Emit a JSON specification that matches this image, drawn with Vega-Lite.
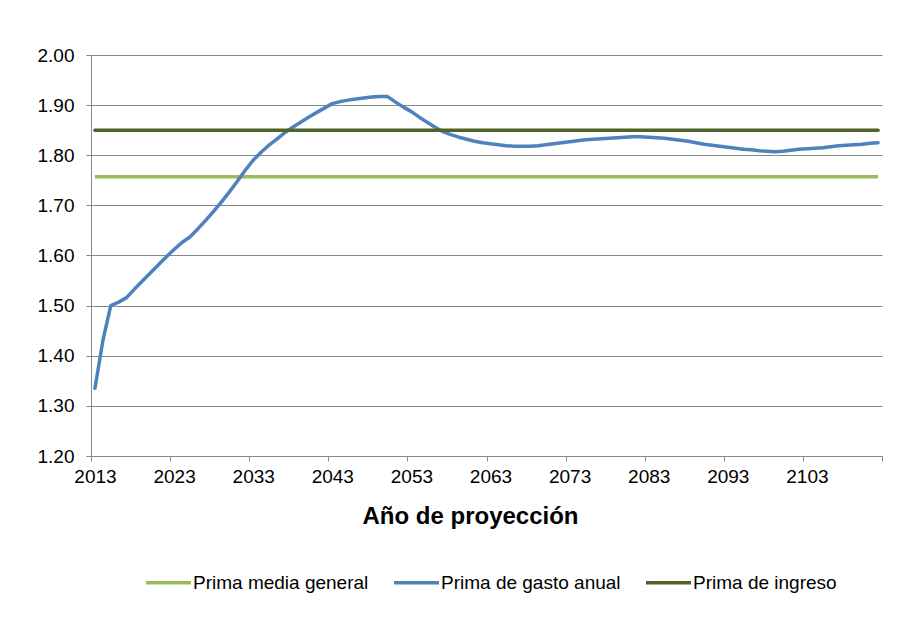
{
  "$schema": "https://vega.github.io/schema/vega-lite/v6.json",
  "width": 791,
  "height": 401,
  "autosize": {"type": "none"},
  "padding": {"left": 91, "top": 55, "right": 33, "bottom": 165},
  "background": "#ffffff",
  "config": {
    "font": "Liberation Sans",
    "view": {"stroke": null},
    "axis": {
      "domainColor": "#898989",
      "tickColor": "#898989",
      "gridColor": "#898989",
      "domainWidth": 1,
      "tickWidth": 1,
      "gridWidth": 1,
      "tickSize": 5,
      "labelColor": "#000000",
      "labelFontSize": 19,
      "labelFont": "Liberation Sans",
      "titleColor": "#000000"
    }
  },
  "data": {
    "values": [
      {"anio": 2013, "media": 1.757, "gasto": 1.335, "ingreso": 1.85},
      {"anio": 2014, "media": 1.757, "gasto": 1.430, "ingreso": 1.85},
      {"anio": 2015, "media": 1.757, "gasto": 1.500, "ingreso": 1.85},
      {"anio": 2016, "media": 1.757, "gasto": 1.507, "ingreso": 1.85},
      {"anio": 2017, "media": 1.757, "gasto": 1.516, "ingreso": 1.85},
      {"anio": 2018, "media": 1.757, "gasto": 1.533, "ingreso": 1.85},
      {"anio": 2019, "media": 1.757, "gasto": 1.549, "ingreso": 1.85},
      {"anio": 2020, "media": 1.757, "gasto": 1.565, "ingreso": 1.85},
      {"anio": 2021, "media": 1.757, "gasto": 1.581, "ingreso": 1.85},
      {"anio": 2022, "media": 1.757, "gasto": 1.597, "ingreso": 1.85},
      {"anio": 2023, "media": 1.757, "gasto": 1.612, "ingreso": 1.85},
      {"anio": 2024, "media": 1.757, "gasto": 1.626, "ingreso": 1.85},
      {"anio": 2025, "media": 1.757, "gasto": 1.637, "ingreso": 1.85},
      {"anio": 2026, "media": 1.757, "gasto": 1.653, "ingreso": 1.85},
      {"anio": 2027, "media": 1.757, "gasto": 1.670, "ingreso": 1.85},
      {"anio": 2028, "media": 1.757, "gasto": 1.688, "ingreso": 1.85},
      {"anio": 2029, "media": 1.757, "gasto": 1.707, "ingreso": 1.85},
      {"anio": 2030, "media": 1.757, "gasto": 1.727, "ingreso": 1.85},
      {"anio": 2031, "media": 1.757, "gasto": 1.748, "ingreso": 1.85},
      {"anio": 2032, "media": 1.757, "gasto": 1.770, "ingreso": 1.85},
      {"anio": 2033, "media": 1.757, "gasto": 1.790, "ingreso": 1.85},
      {"anio": 2034, "media": 1.757, "gasto": 1.806, "ingreso": 1.85},
      {"anio": 2035, "media": 1.757, "gasto": 1.820, "ingreso": 1.85},
      {"anio": 2036, "media": 1.757, "gasto": 1.832, "ingreso": 1.85},
      {"anio": 2037, "media": 1.757, "gasto": 1.845, "ingreso": 1.85},
      {"anio": 2038, "media": 1.757, "gasto": 1.856, "ingreso": 1.85},
      {"anio": 2039, "media": 1.757, "gasto": 1.866, "ingreso": 1.85},
      {"anio": 2040, "media": 1.757, "gasto": 1.876, "ingreso": 1.85},
      {"anio": 2041, "media": 1.757, "gasto": 1.885, "ingreso": 1.85},
      {"anio": 2042, "media": 1.757, "gasto": 1.894, "ingreso": 1.85},
      {"anio": 2043, "media": 1.757, "gasto": 1.903, "ingreso": 1.85},
      {"anio": 2044, "media": 1.757, "gasto": 1.907, "ingreso": 1.85},
      {"anio": 2045, "media": 1.757, "gasto": 1.910, "ingreso": 1.85},
      {"anio": 2046, "media": 1.757, "gasto": 1.912, "ingreso": 1.85},
      {"anio": 2047, "media": 1.757, "gasto": 1.914, "ingreso": 1.85},
      {"anio": 2048, "media": 1.757, "gasto": 1.916, "ingreso": 1.85},
      {"anio": 2049, "media": 1.757, "gasto": 1.917, "ingreso": 1.85},
      {"anio": 2050, "media": 1.757, "gasto": 1.917, "ingreso": 1.85},
      {"anio": 2051, "media": 1.757, "gasto": 1.906, "ingreso": 1.85},
      {"anio": 2052, "media": 1.757, "gasto": 1.896, "ingreso": 1.85},
      {"anio": 2053, "media": 1.757, "gasto": 1.887, "ingreso": 1.85},
      {"anio": 2054, "media": 1.757, "gasto": 1.876, "ingreso": 1.85},
      {"anio": 2055, "media": 1.757, "gasto": 1.866, "ingreso": 1.85},
      {"anio": 2056, "media": 1.757, "gasto": 1.856, "ingreso": 1.85},
      {"anio": 2057, "media": 1.757, "gasto": 1.847, "ingreso": 1.85},
      {"anio": 2058, "media": 1.757, "gasto": 1.841, "ingreso": 1.85},
      {"anio": 2059, "media": 1.757, "gasto": 1.836, "ingreso": 1.85},
      {"anio": 2060, "media": 1.757, "gasto": 1.832, "ingreso": 1.85},
      {"anio": 2061, "media": 1.757, "gasto": 1.828, "ingreso": 1.85},
      {"anio": 2062, "media": 1.757, "gasto": 1.825, "ingreso": 1.85},
      {"anio": 2063, "media": 1.757, "gasto": 1.823, "ingreso": 1.85},
      {"anio": 2064, "media": 1.757, "gasto": 1.821, "ingreso": 1.85},
      {"anio": 2065, "media": 1.757, "gasto": 1.819, "ingreso": 1.85},
      {"anio": 2066, "media": 1.757, "gasto": 1.818, "ingreso": 1.85},
      {"anio": 2067, "media": 1.757, "gasto": 1.818, "ingreso": 1.85},
      {"anio": 2068, "media": 1.757, "gasto": 1.818, "ingreso": 1.85},
      {"anio": 2069, "media": 1.757, "gasto": 1.819, "ingreso": 1.85},
      {"anio": 2070, "media": 1.757, "gasto": 1.821, "ingreso": 1.85},
      {"anio": 2071, "media": 1.757, "gasto": 1.823, "ingreso": 1.85},
      {"anio": 2072, "media": 1.757, "gasto": 1.825, "ingreso": 1.85},
      {"anio": 2073, "media": 1.757, "gasto": 1.827, "ingreso": 1.85},
      {"anio": 2074, "media": 1.757, "gasto": 1.829, "ingreso": 1.85},
      {"anio": 2075, "media": 1.757, "gasto": 1.831, "ingreso": 1.85},
      {"anio": 2076, "media": 1.757, "gasto": 1.832, "ingreso": 1.85},
      {"anio": 2077, "media": 1.757, "gasto": 1.833, "ingreso": 1.85},
      {"anio": 2078, "media": 1.757, "gasto": 1.834, "ingreso": 1.85},
      {"anio": 2079, "media": 1.757, "gasto": 1.835, "ingreso": 1.85},
      {"anio": 2080, "media": 1.757, "gasto": 1.836, "ingreso": 1.85},
      {"anio": 2081, "media": 1.757, "gasto": 1.837, "ingreso": 1.85},
      {"anio": 2082, "media": 1.757, "gasto": 1.837, "ingreso": 1.85},
      {"anio": 2083, "media": 1.757, "gasto": 1.836, "ingreso": 1.85},
      {"anio": 2084, "media": 1.757, "gasto": 1.835, "ingreso": 1.85},
      {"anio": 2085, "media": 1.757, "gasto": 1.834, "ingreso": 1.85},
      {"anio": 2086, "media": 1.757, "gasto": 1.832, "ingreso": 1.85},
      {"anio": 2087, "media": 1.757, "gasto": 1.830, "ingreso": 1.85},
      {"anio": 2088, "media": 1.757, "gasto": 1.828, "ingreso": 1.85},
      {"anio": 2089, "media": 1.757, "gasto": 1.825, "ingreso": 1.85},
      {"anio": 2090, "media": 1.757, "gasto": 1.822, "ingreso": 1.85},
      {"anio": 2091, "media": 1.757, "gasto": 1.820, "ingreso": 1.85},
      {"anio": 2092, "media": 1.757, "gasto": 1.818, "ingreso": 1.85},
      {"anio": 2093, "media": 1.757, "gasto": 1.816, "ingreso": 1.85},
      {"anio": 2094, "media": 1.757, "gasto": 1.814, "ingreso": 1.85},
      {"anio": 2095, "media": 1.757, "gasto": 1.812, "ingreso": 1.85},
      {"anio": 2096, "media": 1.757, "gasto": 1.811, "ingreso": 1.85},
      {"anio": 2097, "media": 1.757, "gasto": 1.809, "ingreso": 1.85},
      {"anio": 2098, "media": 1.757, "gasto": 1.808, "ingreso": 1.85},
      {"anio": 2099, "media": 1.757, "gasto": 1.807, "ingreso": 1.85},
      {"anio": 2100, "media": 1.757, "gasto": 1.808, "ingreso": 1.85},
      {"anio": 2101, "media": 1.757, "gasto": 1.810, "ingreso": 1.85},
      {"anio": 2102, "media": 1.757, "gasto": 1.812, "ingreso": 1.85},
      {"anio": 2103, "media": 1.757, "gasto": 1.813, "ingreso": 1.85},
      {"anio": 2104, "media": 1.757, "gasto": 1.814, "ingreso": 1.85},
      {"anio": 2105, "media": 1.757, "gasto": 1.815, "ingreso": 1.85},
      {"anio": 2106, "media": 1.757, "gasto": 1.817, "ingreso": 1.85},
      {"anio": 2107, "media": 1.757, "gasto": 1.819, "ingreso": 1.85},
      {"anio": 2108, "media": 1.757, "gasto": 1.820, "ingreso": 1.85},
      {"anio": 2109, "media": 1.757, "gasto": 1.821, "ingreso": 1.85},
      {"anio": 2110, "media": 1.757, "gasto": 1.822, "ingreso": 1.85},
      {"anio": 2111, "media": 1.757, "gasto": 1.824, "ingreso": 1.85},
      {"anio": 2112, "media": 1.757, "gasto": 1.825, "ingreso": 1.85}
    ]
  },
  "encoding": {
    "x": {
      "field": "anio",
      "type": "quantitative",
      "scale": {"domain": [2012.5, 2112.5], "nice": false, "zero": false},
      "axis": {
        "title": "Año de proyección",
        "titleFontSize": 24,
        "titleFontWeight": "bold",
        "titlePadding": 18,
        "titleX": 379,
        "grid": false,
        "values": [2012.5, 2022.5, 2032.5, 2042.5, 2052.5, 2062.5, 2072.5, 2082.5, 2092.5, 2102.5, 2112.5],
        "labelExpr": "datum.value > 2110 ? '' : format(datum.value + 0.5, 'd')",
        "labelOffset": 4,
        "labelPadding": 6,
        "labelFlush": false,
        "labelOverlap": false
      }
    },
    "y": {
      "type": "quantitative",
      "scale": {"domain": [1.2, 2.0], "nice": false, "zero": false},
      "axis": {
        "title": null,
        "grid": true,
        "values": [1.2, 1.3, 1.4, 1.5, 1.6, 1.7, 1.8, 1.9, 2.0],
        "format": ".2f",
        "labelPadding": 12
      }
    },
    "color": {
      "type": "nominal",
      "scale": {
        "domain": ["Prima media general", "Prima de gasto anual", "Prima de ingreso"],
        "range": ["#9bbb59", "#4f81bd", "#4f6228"]
      },
      "legend": {
        "title": null,
        "orient": "none",
        "legendX": 53,
        "legendY": 503,
        "direction": "horizontal",
        "symbolType": "stroke",
        "symbolSize": 2025,
        "symbolStrokeWidth": 3.5,
        "labelFontSize": 19,
        "labelLimit": 400,
        "labelColor": "#000000",
        "labelOffset": 0,
        "columnPadding": 18
      }
    }
  },
  "layer": [
    {
      "mark": {"type": "line", "strokeWidth": 3.5, "strokeCap": "butt"},
      "encoding": {"y": {"field": "media"}, "color": {"datum": "Prima media general"}}
    },
    {
      "mark": {"type": "line", "strokeWidth": 3.5, "strokeCap": "round", "strokeJoin": "round"},
      "encoding": {"y": {"field": "gasto"}, "color": {"datum": "Prima de gasto anual"}}
    },
    {
      "mark": {"type": "line", "strokeWidth": 3.5, "strokeCap": "round"},
      "encoding": {"y": {"field": "ingreso"}, "color": {"datum": "Prima de ingreso"}}
    }
  ]
}
